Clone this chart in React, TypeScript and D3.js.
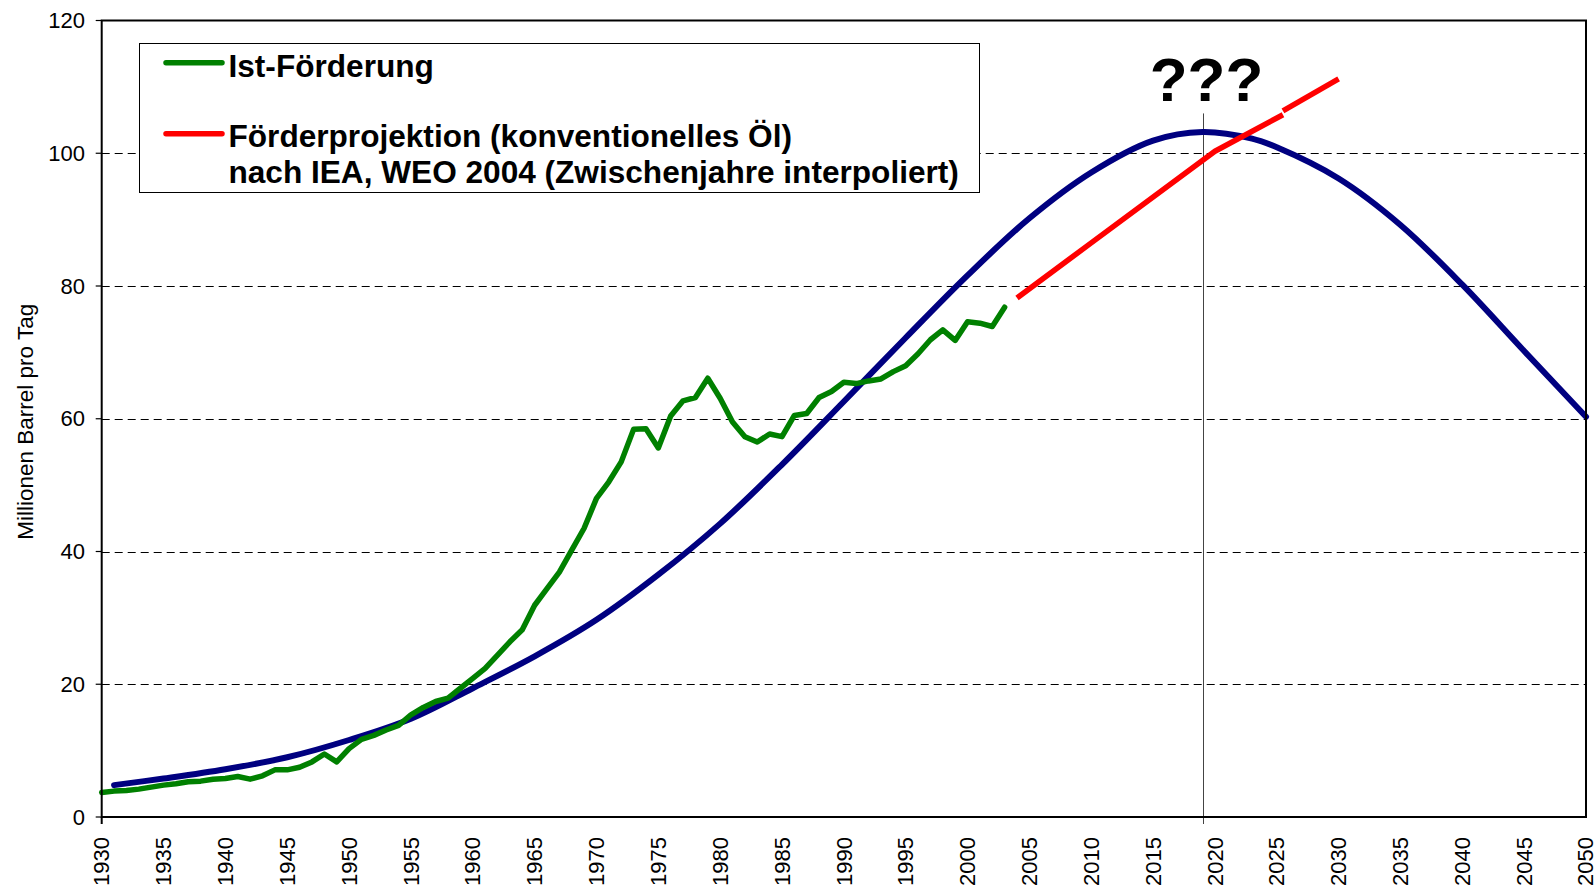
import React from 'react';
import * as d3 from 'd3';

// ---------- data ----------
const istStartYear = 1930;
const istValues = [
  3.7, 3.9, 4.0, 4.2, 4.5, 4.8, 5.0, 5.3, 5.4, 5.7, // 1930-1939
  5.8, 6.1, 5.7, 6.2, 7.1, 7.1, 7.5, 8.3, 9.5, 8.3, // 1940-1949
  10.3, 11.7, 12.3, 13.1, 13.8, 15.4, 16.5, 17.4, 17.9, 19.4, // 1950-1959
  20.9, 22.4, 24.4, 26.4, 28.2, 31.9, 34.4, 36.9, 40.2, 43.5, // 1960-1969
  48.0, 50.5, 53.5, 58.4, 58.5, 55.6, 60.4, 62.7, 63.2, 66.1, // 1970-1979
  63.1, 59.5, 57.3, 56.5, 57.7, 57.3, 60.5, 60.8, 63.2, 64.1, // 1980-1989
  65.5, 65.3, 65.7, 66.0, 67.1, 68.0, 69.8, 71.9, 73.4, 71.8, // 1990-1999
  74.6, 74.4, 73.9, 76.8, // 2000-2003
];

const hubbertYears = [1931, 1935, 1940, 1945, 1950, 1955, 1960, 1965, 1970, 1975, 1980, 1985, 1990, 1995, 2000, 2005, 2010, 2015, 2019, 2023, 2025, 2030, 2035, 2040, 2045, 2050];
const hubbertValues = [4.8, 5.8, 7.2, 9.0, 11.6, 14.8, 19.4, 24.2, 29.7, 36.5, 44.2, 53.1, 62.6, 72.2, 81.6, 90.2, 97.1, 101.9, 103.2, 102.2, 100.9, 96.2, 89.2, 80.2, 70.2, 60.3];

const ieaYearsA = [2004, 2010, 2020, 2025.5];
const ieaValuesA = [78.2, 86.5, 100.3, 105.8];
const ieaYearsB = [2025.5, 2030];
const ieaValuesB = [106.4, 111.2];

const peakYear = 2019;
const peakMarkerTop = 106;

const yTicks = [0, 20, 40, 60, 80, 100, 120];
const xTickYears = [1930, 1935, 1940, 1945, 1950, 1955, 1960, 1965, 1970, 1975, 1980, 1985, 1990, 1995, 2000, 2005, 2010, 2015, 2020, 2025, 2030, 2035, 2040, 2045, 2050];

const legendLabels = ['Ist-Förderung', 'Förderprojektion (konventionelles Öl)', 'nach IEA, WEO 2004 (Zwischenjahre interpoliert)'];
const yAxisTitle = 'Millionen Barrel pro Tag';
const annotation = '???';

// ---------- layout ----------
const W = 1594;
const H = 887;
const L = 101.7, R = 1586, T = 20.5, B = 817;
const FONT = "'Liberation Sans', Arial, Helvetica, sans-serif";

export default function App() {
  const x = d3.scaleLinear().domain([1930, 2050]).range([L, R]);
  const y = d3.scaleLinear().domain([0, 120]).range([B, T]);

  const lin = d3.line<[number, number]>().x(d => x(d[0])).y(d => y(d[1]));
  const smooth = d3.line<[number, number]>().x(d => x(d[0])).y(d => y(d[1])).curve(d3.curveCatmullRom.alpha(0.5));

  const istData: [number, number][] = istValues.map((v, i) => [istStartYear + i, v]);
  const hubData: [number, number][] = hubbertYears.map((yr, i) => [yr, hubbertValues[i]]);
  const iaData: [number, number][] = ieaYearsA.map((yr, i) => [yr, ieaValuesA[i]]);
  const ibData: [number, number][] = ieaYearsB.map((yr, i) => [yr, ieaValuesB[i]]);

  return (
    <svg width={W} height={H} style={{ position: 'absolute', left: 0, top: 0, background: '#fff' }} fontFamily={FONT}>
      <rect x={0} y={0} width={W} height={H} fill="#fff" />
      {/* gridlines */}
      {yTicks.filter(t => t > 0 && t < 120).map(t => (
        <line key={'g' + t} x1={L} x2={R} y1={Math.round(y(t)) + 0.5} y2={Math.round(y(t)) + 0.5} stroke="#000" strokeWidth={1} strokeDasharray="8 5" />
      ))}
      {/* peak marker */}
      <line x1={Math.round(x(peakYear)) + 0.5} x2={Math.round(x(peakYear)) + 0.5} y1={y(peakMarkerTop)} y2={B + 7} stroke="#444" strokeWidth={1} />

      {/* legend */}
      <rect x={139.5} y={43.5} width={840} height={149} fill="#fff" stroke="#000" strokeWidth={1} />
      <line x1={166} x2={222} y1={62.7} y2={62.7} stroke="#008000" strokeWidth={5.5} strokeLinecap="round" />
      <line x1={166} x2={222} y1={133.7} y2={133.7} stroke="#ff0000" strokeWidth={5.5} strokeLinecap="round" />
      <text x={228.5} y={77} fontSize={31.6} fontWeight="bold" fill="#000">{legendLabels[0]}</text>
      <text x={228.5} y={146.5} fontSize={31.6} fontWeight="bold" fill="#000">{legendLabels[1]}</text>
      <text x={228.5} y={182.5} fontSize={31.6} fontWeight="bold" fill="#000">{legendLabels[2]}</text>

      {/* annotation */}
      <text x={x(peakYear) + 4} y={101} fontSize={62} fontWeight="bold" textAnchor="middle" fill="#000">{annotation}</text>

      {/* series */}
      <path d={smooth(hubData) || ''} fill="none" stroke="#000080" strokeWidth={6} strokeLinecap="round" strokeLinejoin="round" />
      <path d={lin(istData) || ''} fill="none" stroke="#008000" strokeWidth={5.5} strokeLinecap="round" strokeLinejoin="round" />
      <path d={lin(iaData) || ''} fill="none" stroke="#ff0000" strokeWidth={5.5} strokeLinecap="butt" strokeLinejoin="round" />
      <path d={lin(ibData) || ''} fill="none" stroke="#ff0000" strokeWidth={5.5} strokeLinecap="butt" strokeLinejoin="round" />

      {/* frame */}
      <rect x={L} y={T} width={R - L} height={B - T} fill="none" stroke="#000" strokeWidth={2} />
      <line x1={L} x2={L} y1={B} y2={B + 7} stroke="#000" strokeWidth={2} />

      {/* y axis ticks & labels */}
      {yTicks.map(t => (
        <g key={'y' + t}>
          <line x1={L - 6} x2={L} y1={y(t)} y2={y(t)} stroke="#000" strokeWidth={1.2} />
          <text x={85} y={y(t)} dy="0.35em" fontSize={22} textAnchor="end" fill="#000">{t}</text>
        </g>
      ))}
      <text transform={`translate(25,${(T + B) / 2 + 3}) rotate(-90)`} fontSize={22.5} textAnchor="middle" dy="0.35em" fill="#000">{yAxisTitle}</text>

      {/* x labels */}
      {xTickYears.map(yr => (
        <text key={'x' + yr} transform={`translate(${Math.min(x(yr), 1585)},837) rotate(-90)`} fontSize={22} textAnchor="end" dy="0.35em" fill="#000">{yr}</text>
      ))}
    </svg>
  );
}
